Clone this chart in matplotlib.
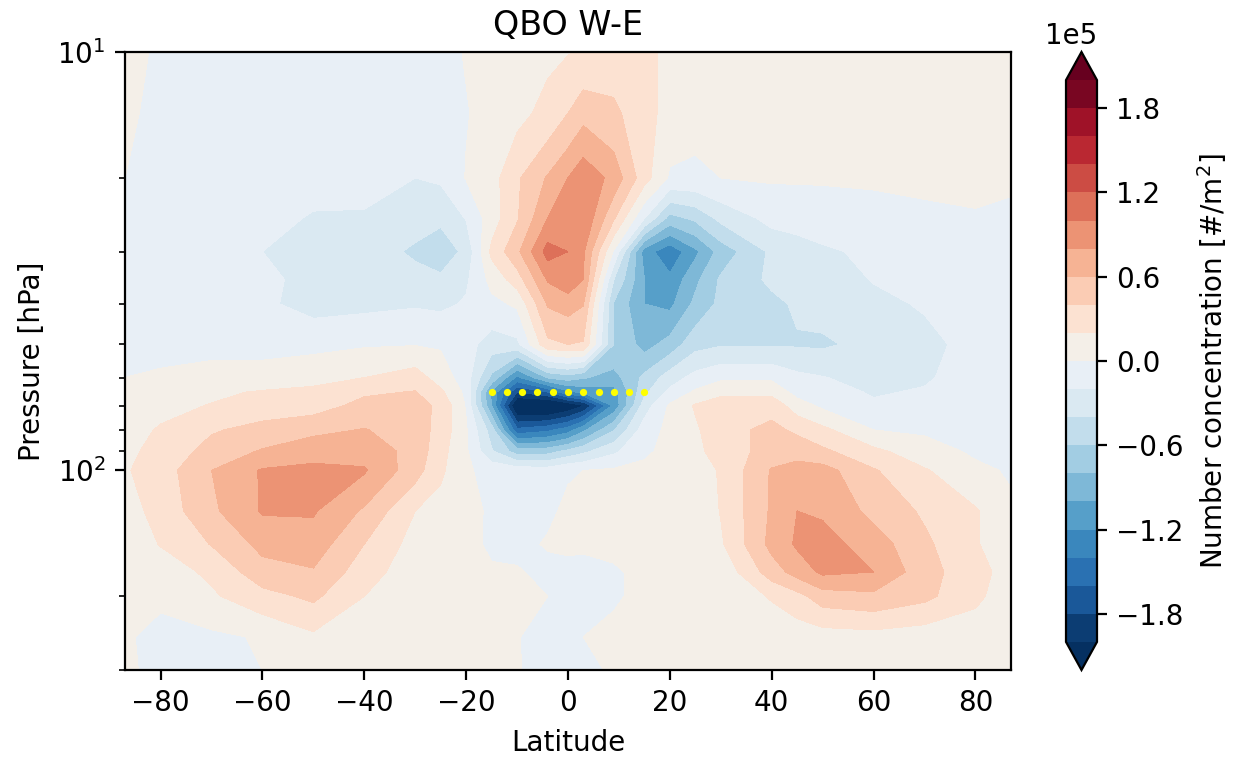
import numpy as np
import matplotlib
matplotlib.use('Agg')
import matplotlib.pyplot as plt

lat = [-87, -80, -70, -60, -50, -40, -30, -25, -20, -15, -10, -4, 0, 3, 9, 15, 20, 25, 30, 40, 45, 50, 60, 70, 80, 87]
pres = [10, 14, 20, 25, 30, 35, 40, 50, 60, 65, 70, 80, 90, 100, 125, 150, 175, 200, 250, 300]

# number concentration difference, in units of 1e5, one row per pressure level
p10 = [.04, -.02, -.08, -.08, -.08, -.08, -.07, -.05, .01, .06, .1, .16, .19, .22, .3, .28, .12, .08, .06, .05, .05, .05, .05, .05, .05, .05]
p14 = [.02, -.03, -.08, -.09, -.09, -.09, -.08, -.06, -.01, .06, .14, .26, .4, .53, .44, .28, .12, .06, .05, .04, .03, .03, .03, .03, .03, .03]
p20 = [0, -.03, -.06, -.08, -.12, -.14, -.2, -.17, .01, .12, .37, .62, .8, .95, .73, .28, -.03, -.04, 0, .02, .02, .02, .03, .05, .08, .03]
p25 = [-.01, -.05, -.08, -.13, -.22, -.22, -.28, -.36, -.19, .1, .38, .8, .95, .98, .42, -.2, -.68, -.56, -.35, -.14, -.12, -.1, -.08, -.05, -.03, -.04]
p30 = [-.03, -.07, -.12, -.2, -.23, -.25, -.45, -.52, -.35, .25, .55, 1.08, 1.0, .83, -.02, -1.1, -1.35, -1.05, -.72, -.36, -.29, -.23, -.16, -.1, -.07, -.05]
p35 = [-.03, -.06, -.1, -.17, -.24, -.25, -.3, -.36, -.23, .06, .3, .82, .95, .8, -.4, -1.0, -1.15, -.85, -.57, -.36, -.33, -.3, -.19, -.12, -.07, -.05]
p40 = [-.03, -.05, -.09, -.16, -.28, -.25, -.22, -.24, -.18, -.05, .03, .62, .68, .61, -.62, -1.0, -1.05, -.75, -.55, -.45, -.37, -.33, -.25, -.18, -.08, -.06]
p50 = [-.08, -.07, -.06, -.05, -.04, -.02, -.01, -.02, -.12, -.3, -.25, .35, .4, .38, -.6, -.88, -.72, -.47, -.42, -.42, -.42, -.43, -.34, -.26, -.13, -.06]
p60 = [0, .03, .07, .06, .1, .2, .3, .1, -.1, -.65, -1.25, -.78, -.7, -.78, -.88, -.55, -.3, -.13, -.04, -.04, -.15, -.19, -.28, -.23, -.09, -.07]
p65 = [.05, .09, .16, .22, .27, .37, .41, .24, -.05, -1.05, -1.8, -1.6, -1.25, -1.15, -1.08, -.45, -.15, .03, .14, .14, -.07, -.12, -.22, -.18, -.1, -.07]
p70 = [.08, .14, .21, .3, .31, .46, .47, .36, -.02, -1.0, -2.3, -2.35, -2.2, -2.02, -1.15, -.3, .03, .22, .32, .33, .09, -.04, -.17, -.17, -.08, -.06]
p80 = [.12, .22, .38, .46, .55, .61, .5, .33, .02, -.5, -1.55, -1.45, -1.3, -1.05, -.62, -.1, .05, .17, .33, .45, .36, .25, 0, -.03, -.04, -.03]
p90 = [.15, .27, .47, .62, .72, .72, .53, .27, .03, -.38, -.7, -.68, -.55, -.45, -.24, -.03, .05, .14, .3, .47, .52, .44, .25, .08, -.03, -.03]
p100 = [.18, .3, .6, .82, .85, .82, .48, .24, .02, -.05, -.08, -.1, -.01, 0, .03, .04, .08, .1, .22, .62, .68, .68, .42, .22, .04, -.02]
p125 = [.12, .27, .56, .82, .82, .57, .2, .12, .06, -.03, -.04, -.02, .02, .02, .02, .03, .04, .05, .21, .63, .8, .77, .54, .37, .22, .03]
p150 = [.08, .21, .41, .66, .71, .4, .12, .08, .05, -.03, -.03, .01, .02, .02, .02, .02, .03, .03, .17, .66, .83, .88, .7, .44, .22, .06]
p175 = [.05, .1, .24, .52, .58, .29, .08, .05, .04, .02, .01, -.03, -.03, -.04, -.01, .02, .02, .03, .05, .5, .68, .84, .8, .48, .27, .12]
p200 = [.03, .03, .17, .33, .44, .2, .06, .05, .03, .02, .01, 0, -.04, -.05, -.01, .02, .03, .03, .04, .22, .33, .5, .55, .45, .25, .07]
p250 = [.02, -.05, -.04, .02, .16, .08, .05, .03, .03, .02, .005, -.04, -.04, 0, .02, .02, .02, .02, .03, .05, .08, .1, .12, .08, .07, .03]
p300 = [.03, -.05, -.04, 0, .05, .06, .05, .04, .03, .02, .005, -.03, -.03, -.02, .01, .02, .02, .02, .03, .05, .05, .06, .06, .05, .05, .03]

dot_lat = [-15, -12, -9, -6, -3, 0, 3, 6, 9, 12, 15]
dot_pres = [65] * 11

rows = [p10, p14, p20, p25, p30, p35, p40, p50, p60, p65, p70, p80, p90, p100, p125, p150, p175, p200, p250, p300]
z = np.array(rows) * 1e5
levels = np.arange(-2e5, 2.01e5, 0.2e5)

# RdBu_r sampled at the band centres, the two bands around zero are a bit off in the original
base = plt.get_cmap('RdBu_r')
mids = (levels[:-1] + levels[1:]) / 2
band_colors = [base(0.0)] + [base((m + 2e5) / 4e5) for m in mids] + [base(1.0)]
band_colors[10] = '#e8eff6'
band_colors[11] = '#f4efe8'

fig = plt.figure(figsize=(6.205, 3.795))
ax = fig.add_axes([125 / 1241, 89 / 759, 886 / 1241, 618 / 759])
cf = ax.contourf(lat, pres, z, levels=levels, colors=band_colors, extend='both')
ax.plot(dot_lat, dot_pres, 'o', color='yellow', ms=2.6, mew=0)

ax.set_yscale('log')
ax.set_ylim(300, 10)
ax.set_xlim(-87, 87)
ax.set_xticks([-80, -60, -40, -20, 0, 20, 40, 60, 80])
ax.set_xlabel('Latitude')
ax.set_ylabel('Pressure [hPa]')
ax.set_title('QBO W-E')

cax = fig.add_axes([1066 / 1241, 89 / 759, 31 / 1241, 618 / 759])
cbar = fig.colorbar(cf, cax=cax, ticks=np.arange(-1.8e5, 1.81e5, 0.6e5))
cbar.formatter.set_powerlimits((0, 0))
cbar.update_ticks()
cbar.set_label('Number concentration [#/m$^2$]')

fig.savefig('out.png', dpi=200)
